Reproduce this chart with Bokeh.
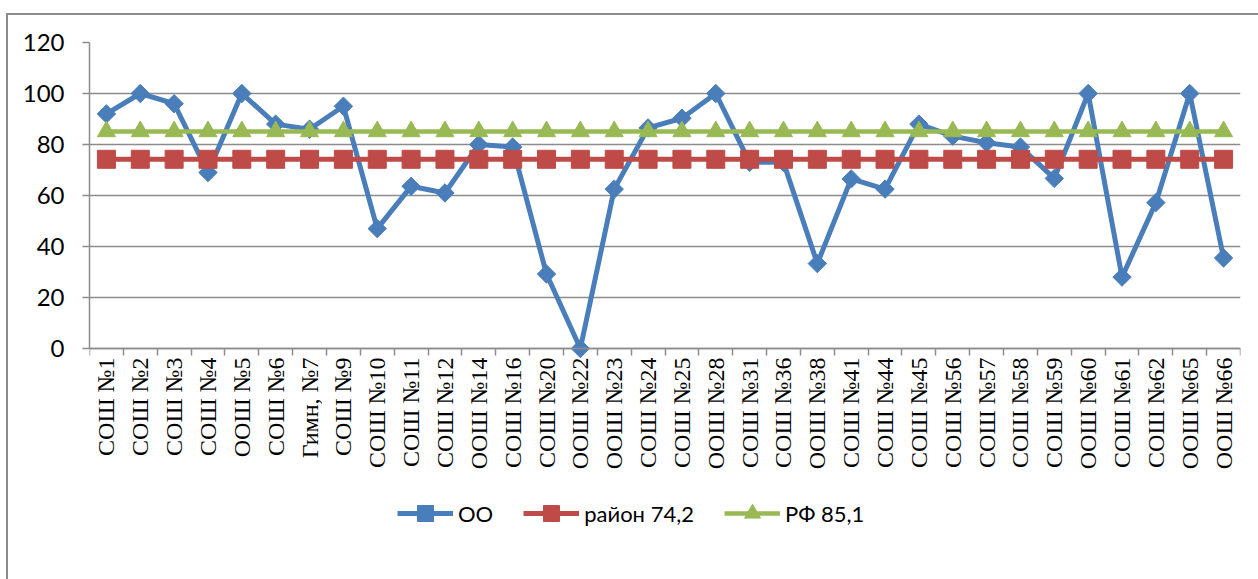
import math
from bokeh.plotting import figure
from bokeh.models import FixedTicker, Legend, LegendItem, Range1d
from bokeh.core.properties import value
from bokeh.embed import file_html
from bokeh.resources import INLINE

schools = ["СОШ №1", "СОШ №2", "СОШ №3", "СОШ №4", "ООШ №5", "СОШ №6", "Гимн, №7", "СОШ №9",
           "СОШ №10", "СОШ №11", "СОШ №12", "ООШ №14", "СОШ №16", "СОШ №20", "ООШ №22", "ООШ №23",
           "СОШ №24", "СОШ №25", "ООШ №28", "СОШ №31", "СОШ №36", "ООШ №38", "СОШ №41", "СОШ №44",
           "СОШ №45", "СОШ №56", "СОШ №57", "СОШ №58", "СОШ №59", "ООШ №60", "СОШ №61", "СОШ №62",
           "ООШ №65", "ООШ №66"]
oo = [92, 100, 96, 69, 100, 88, 86, 95,
      47, 63.6, 61, 80, 79, 29.2, 0, 62.5,
      86.5, 90.3, 100, 73, 73, 33.3, 66.5, 62.5,
      88, 83.3, 80.7, 79, 66.7, 100, 28, 57.2,
      100, 35.5]
rayon_value = 74.2
rf_value = 85.1
rayon = [rayon_value] * len(schools)
rf = [rf_value] * len(schools)
y_ticks = [0, 20, 40, 60, 80, 100, 120]

BLUE = "#4A7EBB"
RED = "#BE4B48"
GREEN = "#98B954"
GRAY = "#8c8c8c"

xs = list(range(len(schools)))

# frame spans 42..549 px; 0..120 occupies 42..348 px, the rest holds labels and legend
Y_TOP = 120
Y_BOTTOM = -Y_TOP * (549 - 348) / (348 - 42)

p = figure(width=1258, height=579, output_backend="svg", toolbar_location=None,
           x_range=Range1d(-0.5, len(schools) - 0.5), y_range=Range1d(Y_BOTTOM, Y_TOP),
           min_border_left=89, min_border_right=18, min_border_top=42, min_border_bottom=30)
# outer chart frame drawn as a CSS background behind a transparent border area
p.styles = {"background": "linear-gradient(#8c8c8c, #8c8c8c) 6px 13px / 2px 100% no-repeat, "
                          "linear-gradient(#8c8c8c, #8c8c8c) 6px 13px / 100% 2px no-repeat, white"}
p.outline_line_color = None
p.background_fill_color = "white"
p.border_fill_alpha = 0

# x axis, placed at y = 0
p.xaxis.fixed_location = 0
p.xaxis.ticker = FixedTicker(ticks=xs, minor_ticks=[i - 0.5 for i in range(len(schools) + 1)])
p.xaxis.major_label_text_font_size = "1px"
p.xaxis.major_label_text_alpha = 0
p.xaxis.major_tick_line_color = None
p.xaxis.major_tick_out = 0
p.xaxis.major_tick_in = 0
p.xaxis.minor_tick_line_color = GRAY
p.xaxis.minor_tick_line_width = 1.5
p.xaxis.minor_tick_out = 7
p.xaxis.minor_tick_in = 0
p.xaxis.axis_line_color = GRAY
p.xaxis.axis_line_width = 1.5
p.xaxis.major_label_standoff = 0

# category labels (vertical, Times-like)
p.text(x=xs, y=0, text=schools, angle=math.pi / 2, text_align="right",
       text_baseline="middle", y_offset=9,
       text_font=value("Liberation Serif"), text_font_size="24px", text_color="black")

# y axis
p.yaxis.ticker = FixedTicker(ticks=y_ticks)
p.yaxis.bounds = (0, Y_TOP)
p.yaxis.minor_tick_line_color = None
p.yaxis.major_tick_out = 7
p.yaxis.major_tick_in = 0
p.yaxis.major_tick_line_color = GRAY
p.yaxis.major_tick_line_width = 1.5
p.yaxis.axis_line_color = GRAY
p.yaxis.axis_line_width = 1.5
p.yaxis.major_label_standoff = 18
p.yaxis.major_label_text_font = "Lato"
p.yaxis.major_label_text_font_size = "24px"
p.yaxis.major_label_text_color = "black"

p.xgrid.grid_line_color = None
p.ygrid.grid_line_color = GRAY
p.ygrid.grid_line_width = 1.5

# series
l1 = p.line(xs, oo, line_color=BLUE, line_width=5, line_join="round")
m1 = p.scatter(xs, oo, marker="square", angle=math.pi / 4, size=13,
               fill_color=BLUE, line_color=BLUE)
l2 = p.line(xs, rayon, line_color=RED, line_width=5)
m2 = p.scatter(xs, rayon, marker="square", size=18, fill_color=RED, line_color=RED)
l3 = p.line(xs, rf, line_color=GREEN, line_width=4.5)
m3 = p.scatter(xs, rf, marker="triangle", size=18, fill_color=GREEN, line_color=GREEN)

legend = Legend(items=[
    LegendItem(label="ОО", renderers=[l1, m1]),
    LegendItem(label="район 74,2", renderers=[l2, m2]),
    LegendItem(label="РФ 85,1", renderers=[l3, m3]),
], orientation="horizontal", location=(308, 16))
legend.border_line_color = None
legend.background_fill_alpha = 0
legend.padding = 0
legend.margin = 0
legend.spacing = 30
legend.glyph_width = 56
legend.glyph_height = 40
legend.label_standoff = 5
legend.label_text_font = "Lato"
legend.label_text_font_size = "22px"
legend.label_text_color = "black"
p.add_layout(legend, "center")

open("out.html", "w").write(file_html(p, INLINE))
